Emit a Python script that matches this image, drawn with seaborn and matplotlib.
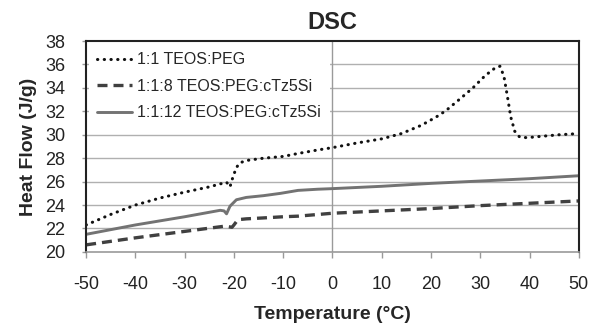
import pandas as pd
import matplotlib
matplotlib.use("Agg")
import matplotlib.pyplot as plt
import seaborn as sns

# values
teos_peg_temp = [-50, -45, -40, -35, -30, -25, -21.5, -20.8, -20.2, -19.5, -18.8, -17.5,
                 -14, -10, -7, -3, 0, 5, 10, 14, 18, 21, 23, 26, 28.5, 31, 33, 34,
                 34.8, 35.5, 36.2, 37, 38, 39.5, 42, 46, 50]
teos_peg_flow = [22.3, 23.2, 24.0, 24.6, 25.1, 25.55, 25.95, 25.55, 26.4, 27.2, 27.6, 27.8,
                 28.0, 28.15, 28.4, 28.7, 28.9, 29.3, 29.65, 30.1, 30.8, 31.5, 32.05, 33.1,
                 34.0, 35.05, 35.7, 35.85, 35.0, 33.3, 31.5, 30.3, 29.8, 29.75, 29.85, 30.0, 30.1]

c8_temp = [-50, -40, -30, -21.8, -20.4, -20.0, -19.2, -17.5, -14, -10, -7, 0, 10, 20, 30, 40, 50]
c8_flow = [20.6, 21.2, 21.75, 22.2, 22.1, 22.3, 22.75, 22.82, 22.9, 23.0, 23.05, 23.3,
           23.5, 23.7, 23.95, 24.15, 24.35]

c12_temp = [-50, -40, -30, -22.8, -22.0, -21.5, -20.8, -19.5, -17.5, -14, -10.5, -7, -3,
            0, 10, 20, 30, 40, 50]
c12_flow = [21.5, 22.3, 23.0, 23.55, 23.5, 23.25, 23.9, 24.45, 24.65, 24.8, 25.0, 25.25,
            25.35, 25.4, 25.6, 25.85, 26.05, 26.25, 26.5]

labels = ["1:1 TEOS:PEG", "1:1:8 TEOS:PEG:cTz5Si", "1:1:12 TEOS:PEG:cTz5Si"]
x_ticks = list(range(-50, 51, 10))
y_ticks = list(range(20, 39, 2))

sns.set_style("white")
plt.rcParams['font.family'] = ['Liberation Sans', 'DejaVu Sans']
plt.rcParams['axes.unicode_minus'] = False

fig, ax = plt.subplots(figsize=(5.9, 3.31), dpi=100)
fig.subplots_adjust(left=0.146, right=0.981, bottom=0.239, top=0.876)

# grid first so the curves sit on top
for yv in y_ticks[1:-1]:
    ax.axhline(yv, color="#b0b0b0", lw=1.0, zorder=0)
ax.axvline(0, color="#9a9a9a", lw=1.0, zorder=0)

df1 = pd.DataFrame({"T": teos_peg_temp, "HF": teos_peg_flow})
df2 = pd.DataFrame({"T": c8_temp, "HF": c8_flow})
df3 = pd.DataFrame({"T": c12_temp, "HF": c12_flow})

sns.lineplot(data=df1, x="T", y="HF", ax=ax, sort=False, errorbar=None,
             color="#111111", lw=2.2, linestyle=(0, (0.1, 2.1)),
             dash_capstyle="round", label=labels[0])
sns.lineplot(data=df2, x="T", y="HF", ax=ax, sort=False, errorbar=None,
             color="#404040", lw=2.4, linestyle=(0, (3.0, 1.8)), label=labels[1])
sns.lineplot(data=df3, x="T", y="HF", ax=ax, sort=False, errorbar=None,
             color="#737373", lw=2.1, linestyle="-", label=labels[2])

ax.set_xlim(-50, 50)
ax.set_ylim(20, 38)
ax.set_xticks(x_ticks)
ax.set_yticks(y_ticks)
ax.tick_params(axis="x", labelsize=13, colors="#222222", length=4, pad=13, width=1,
               color="#999999", direction="out", bottom=True)
ax.tick_params(axis="y", labelsize=13, colors="#222222", length=3, pad=12, width=1,
               color="#999999", direction="out", left=True)

for side in ["top", "left", "right"]:
    ax.spines[side].set_color("#222222")
    ax.spines[side].set_linewidth(1.5)
ax.spines["bottom"].set_color("#999999")
ax.spines["bottom"].set_linewidth(1.2)

ax.set_title("DSC", fontsize=17, fontweight="bold", pad=9)
ax.set_xlabel("Temperature (°C)", fontsize=14, fontweight="bold", labelpad=10)
ax.set_ylabel("Heat Flow (J/g)", fontsize=14, fontweight="bold", labelpad=6)

leg = ax.legend(loc="upper left", fontsize=11.5, frameon=True, fancybox=False,
                facecolor="white", edgecolor="none", framealpha=1.0,
                borderaxespad=0.15, handlelength=2.2, handletextpad=0.3,
                labelspacing=0.72, borderpad=0.55)
leg.set_zorder(1)

fig.savefig("out.png", dpi=100)
